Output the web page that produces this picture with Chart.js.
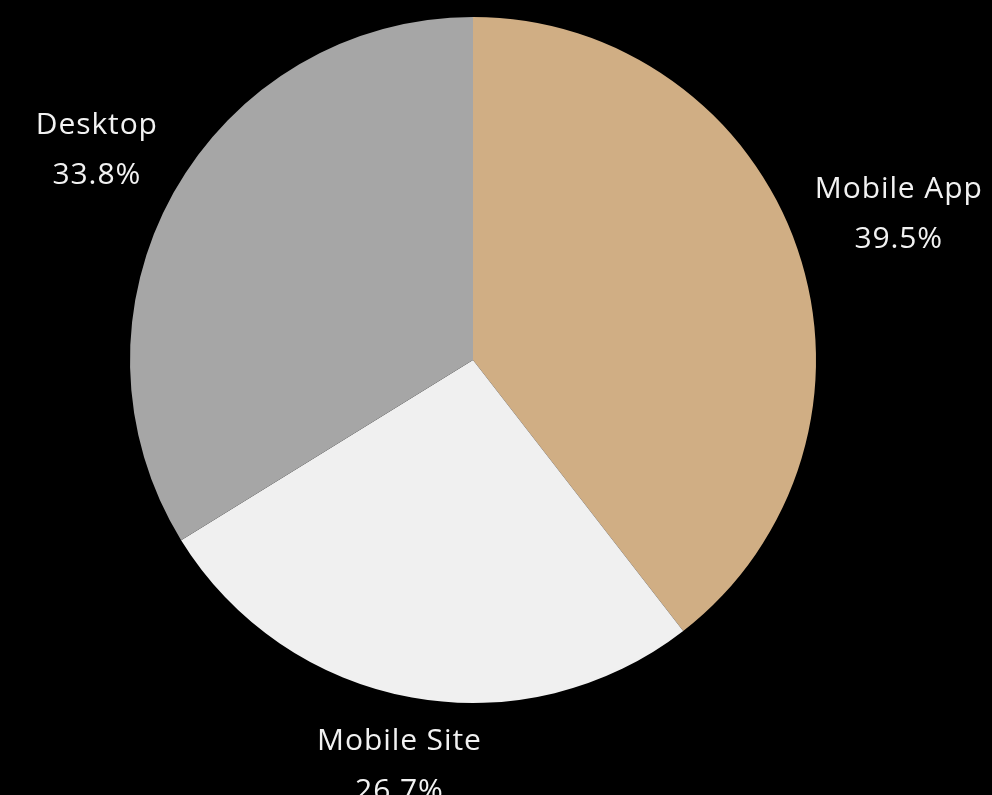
<!DOCTYPE html>
<html>
<head>
<meta charset="utf-8">
<script src="https://cdn.jsdelivr.net/npm/chart.js@4/dist/chart.umd.min.js"></script>
<style>
  html, body { margin: 0; padding: 0; background: #000; }
  canvas { display: block; }
</style>
</head>
<body>
<canvas id="chart" width="992" height="795"></canvas>
<script>
// data, clockwise from 12 o'clock
var labels = ['Mobile App', 'Mobile Site', 'Desktop']
var shares = [39.5, 26.7, 33.8]
var colors = ['#D0AE84', '#F0F0F0', '#A6A6A6']

var FONT = '400 30px "Open Sans"'
var LINE = 50

// draws name + percent outside each slice
var outsideLabels = {
  id: 'outsideLabels',
  afterDatasetsDraw: function (chart) {
    var ctx = chart.ctx
    var meta = chart.getDatasetMeta(0)
    ctx.save()
    ctx.font = FONT
    ctx.letterSpacing = '0.9px'
    ctx.fillStyle = '#F2F2F2'
    ctx.textAlign = 'center'
    ctx.textBaseline = 'middle'
    meta.data.forEach(function (arc, i) {
      var p = arc.getProps(['x', 'y', 'startAngle', 'endAngle', 'outerRadius'])
      var mid = (p.startAngle + p.endAngle) / 2
      var dx = Math.cos(mid)
      var dy = Math.sin(mid)
      var pct = shares[i].toFixed(1) + '%'
      var w = Math.max(ctx.measureText(labels[i]).width, ctx.measureText(pct).width)
      var h = LINE + 34
      var ext = Math.abs(dx) * w / 2 + Math.abs(dy) * h / 2
      var d = p.outerRadius + 14 + ext
      var cx = p.x + dx * d
      var cy = p.y + dy * d
      ctx.fillText(labels[i], cx, cy - LINE / 2)
      ctx.fillText(pct, cx, cy + LINE / 2)
    })
    ctx.restore()
  }
}

new Chart(document.getElementById('chart'), {
  type: 'pie',
  data: {
    labels: labels,
    datasets: [{
      data: shares,
      backgroundColor: colors,
      borderWidth: 0
    }]
  },
  options: {
    responsive: false,
    animation: false,
    layout: { padding: { left: 130, right: 176, top: 17, bottom: 92 } },
    plugins: {
      legend: { display: false },
      tooltip: { enabled: false }
    }
  },
  plugins: [outsideLabels]
})
</script>
</body>
</html>
